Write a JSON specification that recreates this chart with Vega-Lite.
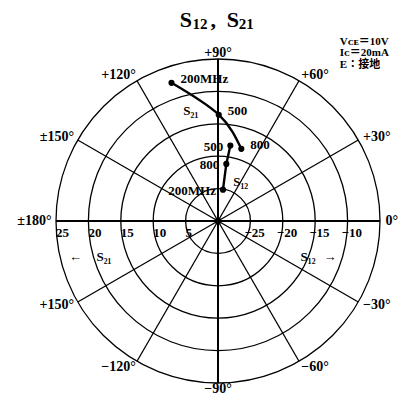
{
  "$schema": "https://vega.github.io/schema/vega-lite/v6.json",
  "width": 324,
  "height": 324,
  "autosize": "none",
  "padding": {"left": 56, "top": 59, "right": 34, "bottom": 22},
  "background": "white",
  "view": {"stroke": null},
  "config": {
    "text": {"font": "'Liberation Serif', 'Noto Sans CJK JP'", "fontWeight": "bold", "fontSize": 13, "color": "black"}
  },
  "datasets": {
    "curves": [
      {"s": "S21", "f": 200, "db": 22.5, "ang": 108.6, "lbl": "200MHz", "o": 1},
      {"s": "S21", "f": 500, "db": 16.4, "ang": 89.6, "lbl": "500", "o": 2},
      {"s": "S21", "f": 800, "db": 11.7, "ang": 72.1, "lbl": "800", "o": 3},
      {"s": "S12", "f": 200, "db": -25.1, "ang": 81.0, "lbl": "200MHz", "o": 1},
      {"s": "S12", "f": 800, "db": -21.1, "ang": 81.7, "lbl": "800", "o": 2},
      {"s": "S12", "f": 500, "db": -18.2, "ang": 80.7, "lbl": "500", "o": 3}
    ],
    "angles": [
      {"a": 90, "t": "+90°"}, {"a": 60, "t": "+60°"}, {"a": 30, "t": "+30°"},
      {"a": 0, "t": "0°"}, {"a": -30, "t": "−30°"}, {"a": -60, "t": "−60°"},
      {"a": -90, "t": "−90°"}, {"a": -120, "t": "−120°"}, {"a": -150, "t": "+150°"},
      {"a": 180, "t": "±180°"}, {"a": 150, "t": "±150°"}, {"a": 120, "t": "+120°"}
    ],
    "ticks": [
      {"s": "S21", "db": 25, "t": "25"}, {"s": "S21", "db": 20, "t": "20"},
      {"s": "S21", "db": 15, "t": "15"}, {"s": "S21", "db": 10, "t": "10"},
      {"s": "S21", "db": 5, "t": "5"},
      {"s": "S12", "db": -25, "t": "−25"}, {"s": "S12", "db": -20, "t": "−20"},
      {"s": "S12", "db": -15, "t": "−15"}, {"s": "S12", "db": -10, "t": "−10"}
    ],
    "notes": [
      {"t": "S₂₁", "x": -4.2, "y": 17.0, "al": "c"},
      {"t": "S₁₂", "x": 3.5, "y": 6.0, "al": "c"},
      {"t": "←", "x": -22.0, "y": -5.5, "al": "c"},
      {"t": "S₂₁", "x": -17.6, "y": -5.5, "al": "c"},
      {"t": "S₁₂", "x": 13.9, "y": -5.5, "al": "c"},
      {"t": "→", "x": 17.3, "y": -5.5, "al": "c"},
      {"t": "Vᴄᴇ＝10V", "x": 18.8, "y": 27.7, "al": "l"},
      {"t": "Iᴄ＝20mA", "x": 18.8, "y": 25.85, "al": "l"},
      {"t": "E：接地", "x": 18.8, "y": 24.0, "al": "l"}
    ],
    "titleBig": [
      {"t": "S", "x": -5.9, "y": 29.9},
      {"t": ",", "x": -1.15, "y": 29.9},
      {"t": "S", "x": 1.35, "y": 29.9}
    ],
    "titleSub": [
      {"t": "12", "x": -3.95, "y": 29.65},
      {"t": "21", "x": 3.2, "y": 29.65}
    ]
  },
  "layer": [
    {
      "data": {"values": [{"rr": 5}, {"rr": 10}, {"rr": 15}, {"rr": 20}, {"rr": 25}]},
      "mark": {"type": "arc", "filled": false, "stroke": "black", "strokeWidth": 1.3, "theta": 0, "theta2": 6.2832},
      "encoding": {
        "radius": {"field": "rr", "type": "quantitative", "stack": null, "scale": {"type": "linear", "domain": [0, 25], "range": [0, 162], "zero": true, "nice": false}}
      }
    },
    {
      "data": {"values": [{"a": 0}, {"a": 30}, {"a": 60}, {"a": 90}, {"a": 120}, {"a": 150}]},
      "transform": [
        {"calculate": "25*cos(datum.a*PI/180)", "as": "x"},
        {"calculate": "25*sin(datum.a*PI/180)", "as": "y"},
        {"calculate": "-datum.x", "as": "x2"},
        {"calculate": "-datum.y", "as": "y2"}
      ],
      "mark": {"type": "rule", "color": "black"},
      "encoding": {
        "x": {"field": "x", "type": "quantitative", "scale": {"domain": [-25, 25], "nice": false, "zero": false}, "axis": null},
        "y": {"field": "y", "type": "quantitative", "scale": {"domain": [-25, 25], "nice": false, "zero": false}, "axis": null},
        "x2": {"field": "x2"},
        "y2": {"field": "y2"},
        "strokeWidth": {"condition": {"test": "datum.a % 90 == 0", "value": 2}, "value": 1.3}
      }
    },
    {
      "data": {"name": "curves"},
      "transform": [
        {"filter": "datum.s == 'S21'"},
        {"calculate": "datum.db", "as": "r"},
        {"calculate": "datum.r*cos(datum.ang*PI/180)", "as": "x"},
        {"calculate": "datum.r*sin(datum.ang*PI/180)", "as": "y"}
      ],
      "mark": {"type": "line", "color": "black", "strokeWidth": 2.4, "interpolate": "natural"},
      "encoding": {
        "x": {"field": "x", "type": "quantitative"},
        "y": {"field": "y", "type": "quantitative"},
        "order": {"field": "o", "type": "quantitative"}
      }
    },
    {
      "data": {"name": "curves"},
      "transform": [
        {"filter": "datum.s == 'S12'"},
        {"calculate": "datum.db + 30", "as": "r"},
        {"calculate": "datum.r*cos(datum.ang*PI/180)", "as": "x"},
        {"calculate": "datum.r*sin(datum.ang*PI/180)", "as": "y"}
      ],
      "mark": {"type": "line", "color": "black", "strokeWidth": 2.4},
      "encoding": {
        "x": {"field": "x", "type": "quantitative"},
        "y": {"field": "y", "type": "quantitative"},
        "order": {"field": "o", "type": "quantitative"}
      }
    },
    {
      "data": {"name": "curves"},
      "transform": [
        {"calculate": "datum.s == 'S12' ? datum.db + 30 : datum.db", "as": "r"},
        {"calculate": "datum.r*cos(datum.ang*PI/180)", "as": "x"},
        {"calculate": "datum.r*sin(datum.ang*PI/180)", "as": "y"}
      ],
      "mark": {"type": "circle", "color": "black", "size": 38, "opacity": 1},
      "encoding": {
        "x": {"field": "x", "type": "quantitative"},
        "y": {"field": "y", "type": "quantitative"}
      }
    },
    {
      "data": {"values": [{"cx": 0, "cy": 0}]},
      "mark": {"type": "circle", "color": "black", "size": 45, "opacity": 1},
      "encoding": {
        "x": {"field": "cx", "type": "quantitative"},
        "y": {"field": "cy", "type": "quantitative"}
      }
    },
    {
      "data": {"name": "curves"},
      "transform": [
        {"filter": "datum.s == 'S21'"},
        {"calculate": "datum.db", "as": "r"},
        {"calculate": "datum.r*cos(datum.ang*PI/180)", "as": "x"},
        {"calculate": "datum.r*sin(datum.ang*PI/180)", "as": "y"}
      ],
      "mark": {"type": "text", "align": "left", "baseline": "middle", "dx": 9, "dy": -4},
      "encoding": {
        "x": {"field": "x", "type": "quantitative"},
        "y": {"field": "y", "type": "quantitative"},
        "text": {"field": "lbl"}
      }
    },
    {
      "data": {"name": "curves"},
      "transform": [
        {"filter": "datum.s == 'S12'"},
        {"calculate": "datum.db + 30", "as": "r"},
        {"calculate": "datum.r*cos(datum.ang*PI/180)", "as": "x"},
        {"calculate": "datum.r*sin(datum.ang*PI/180)", "as": "y"}
      ],
      "mark": {"type": "text", "align": "right", "baseline": "middle", "dx": -7, "dy": 1},
      "encoding": {
        "x": {"field": "x", "type": "quantitative"},
        "y": {"field": "y", "type": "quantitative"},
        "text": {"field": "lbl"}
      }
    },
    {
      "data": {"name": "angles"},
      "transform": [
        {"calculate": "26*cos(datum.a*PI/180)", "as": "x"},
        {"calculate": "26*sin(datum.a*PI/180)", "as": "y"},
        {"filter": "datum.x < -0.5"}
      ],
      "mark": {"type": "text", "align": "right", "baseline": "middle", "dx": 2, "fontSize": 14},
      "encoding": {
        "x": {"field": "x", "type": "quantitative"},
        "y": {"field": "y", "type": "quantitative"},
        "text": {"field": "t"}
      }
    },
    {
      "data": {"name": "angles"},
      "transform": [
        {"calculate": "26*cos(datum.a*PI/180)", "as": "x"},
        {"calculate": "26*sin(datum.a*PI/180)", "as": "y"},
        {"filter": "datum.x > 0.5"}
      ],
      "mark": {"type": "text", "align": "left", "baseline": "middle", "dx": -1, "fontSize": 14},
      "encoding": {
        "x": {"field": "x", "type": "quantitative"},
        "y": {"field": "y", "type": "quantitative"},
        "text": {"field": "t"}
      }
    },
    {
      "data": {"name": "angles"},
      "transform": [
        {"calculate": "26*cos(datum.a*PI/180)", "as": "x"},
        {"calculate": "26*sin(datum.a*PI/180)", "as": "y"},
        {"filter": "abs(datum.x) <= 0.5"}
      ],
      "mark": {"type": "text", "align": "center", "baseline": "middle", "fontSize": 14},
      "encoding": {
        "x": {"field": "x", "type": "quantitative"},
        "y": {"field": "y", "type": "quantitative"},
        "text": {"field": "t"}
      }
    },
    {
      "data": {"name": "ticks"},
      "transform": [
        {"filter": "datum.s == 'S21'"},
        {"calculate": "-datum.db", "as": "x"},
        {"calculate": "0", "as": "y"}
      ],
      "mark": {"type": "text", "align": "left", "baseline": "middle", "dy": 12, "dx": 0},
      "encoding": {
        "x": {"field": "x", "type": "quantitative"},
        "y": {"field": "y", "type": "quantitative"},
        "text": {"field": "t"}
      }
    },
    {
      "data": {"name": "ticks"},
      "transform": [
        {"filter": "datum.s == 'S12'"},
        {"calculate": "datum.db + 30", "as": "x"},
        {"calculate": "0", "as": "y"}
      ],
      "mark": {"type": "text", "align": "left", "baseline": "middle", "dy": 12, "dx": -6},
      "encoding": {
        "x": {"field": "x", "type": "quantitative"},
        "y": {"field": "y", "type": "quantitative"},
        "text": {"field": "t"}
      }
    },
    {
      "data": {"name": "notes"},
      "transform": [{"filter": "datum.al == 'c'"}],
      "mark": {"type": "text", "align": "center", "baseline": "middle"},
      "encoding": {
        "x": {"field": "x", "type": "quantitative"},
        "y": {"field": "y", "type": "quantitative"},
        "text": {"field": "t"}
      }
    },
    {
      "data": {"name": "notes"},
      "transform": [{"filter": "datum.al == 'l'"}],
      "mark": {"type": "text", "align": "left", "baseline": "middle", "fontSize": 11},
      "encoding": {
        "x": {"field": "x", "type": "quantitative"},
        "y": {"field": "y", "type": "quantitative"},
        "text": {"field": "t"}
      }
    },
    {
      "data": {"name": "titleBig"},
      "mark": {"type": "text", "align": "left", "baseline": "alphabetic", "fontSize": 22},
      "encoding": {
        "x": {"field": "x", "type": "quantitative"},
        "y": {"field": "y", "type": "quantitative"},
        "text": {"field": "t"}
      }
    },
    {
      "data": {"name": "titleSub"},
      "mark": {"type": "text", "align": "left", "baseline": "alphabetic", "fontSize": 15},
      "encoding": {
        "x": {"field": "x", "type": "quantitative"},
        "y": {"field": "y", "type": "quantitative"},
        "text": {"field": "t"}
      }
    }
  ]
}
